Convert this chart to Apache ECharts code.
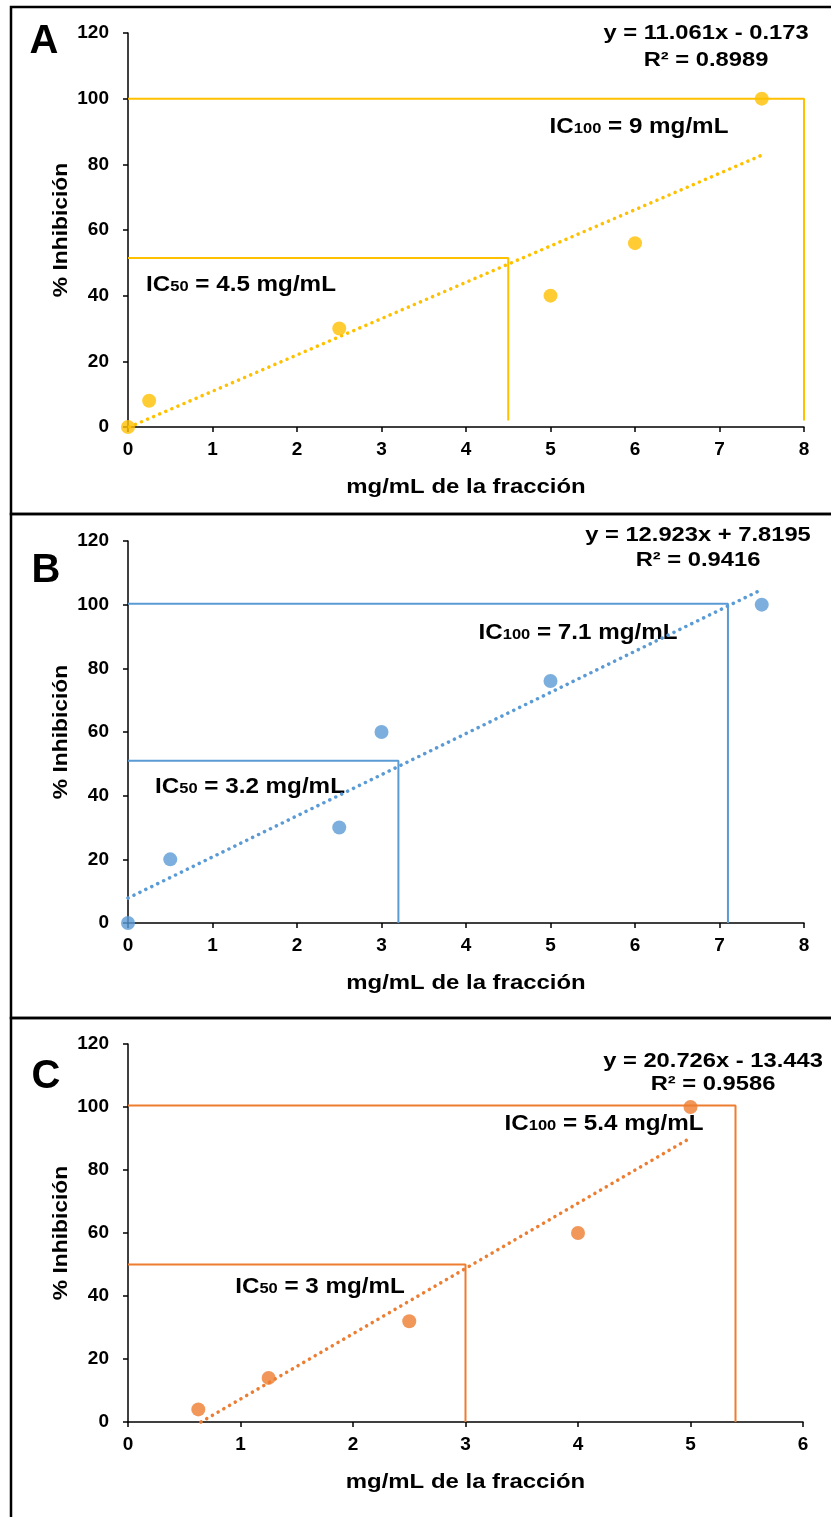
<!DOCTYPE html>
<html>
<head>
<meta charset="utf-8">
<title>% Inhibición vs mg/mL de la fracción</title>
<script src="https://cdn.jsdelivr.net/npm/echarts@6/dist/echarts.min.js"></script>
<style>
  html, body { margin: 0; padding: 0; background: #fff; }
  #chart { width: 831px; height: 1517px; }
</style>
</head>
<body>
<div id="chart"></div>
<script>
// ---- data ----
const panelLetters = ['A', 'B', 'C'];
const seriesColors = ['#FFC000', '#5B9BD5', '#ED7D31'];

const concA = [0, 0.25, 2.5, 5, 6, 7.5];
const inhA  = [0, 8, 30, 40, 56, 100];
const concB = [0, 0.5, 2.5, 3, 5, 7.5];
const inhB  = [0, 20, 30, 60, 76, 100];
const concC = [0.625, 1.25, 2.5, 4, 5];
const inhC  = [4, 14, 32, 60, 100];

// linear fits shown on each panel
const slopes     = [11.061, 12.923, 20.726];
const intercepts = [-0.173, 7.8195, -13.443];
const rSquared   = ['0.8989', '0.9416', '0.9586'];

// inhibitory concentrations and the % levels their guide lines sit on
const ic50       = [4.5, 3.2, 3];
const ic100      = [9, 7.1, 5.4];
const ic50Level  = [51.5, 51, 50];
const ic100Level = [100, 100.3, 100.5];
const guideFloor = [2, 0, 0];

const xMax   = [8, 8, 6];
const yTicks = [0, 20, 40, 60, 80, 100, 120];
const xTitle = 'mg/mL de la fracción';
const yTitle = '% Inhibición';

// ---- layout ----
const FONT = '"Liberation Sans", Arial, sans-serif';
const grids = [
  { left: 128, top: 33,   width: 676, height: 394 },
  { left: 128, top: 541,  width: 676, height: 382 },
  { left: 128, top: 1044, width: 675, height: 378 }
];
const frames = [
  { y: 7,    h: 507 },
  { y: 514,  h: 504 },
  { y: 1018, h: 520 }
];
const letterPos = [[44, 42], [46, 571], [46, 1077]];
const eqPos     = [[706, 33, 60], [698, 535, 560], [713, 1061, 1084]];
const ic100Pos  = [[639, 125], [578, 631], [604, 1122]];
const ic50Pos   = [[241, 283], [250, 785], [320, 1285]];

const conc = [concA, concB, concC];
const inh  = [inhA, inhB, inhC];

function fmtEq(i) {
  const b = intercepts[i];
  return 'y = ' + slopes[i] + 'x ' + (b < 0 ? '- ' : '+ ') + Math.abs(b);
}

function trendPoints(i) {
  const xs = conc[i];
  const root = -intercepts[i] / slopes[i];
  const x0 = Math.max(Math.min.apply(null, xs), root);
  const x1 = Math.max.apply(null, xs);
  return [[x0, slopes[i] * x0 + intercepts[i]], [x1, slopes[i] * x1 + intercepts[i]]];
}

function guide(i, xv, level) {
  const x = Math.min(xv, xMax[i]);
  return [[0, level], [x, level], [x, guideFloor[i]]];
}

// bold text, slightly widened horizontally
function label(x, y, text, size, stretch, extra) {
  return Object.assign({
    type: 'text', x: x, y: y, scaleX: stretch,
    style: { text: text, font: 'bold ' + size + 'px ' + FONT, fill: '#000',
             align: 'center', verticalAlign: 'middle' }
  }, extra || {});
}

const axisCommon = {
  axisLine: { show: true, onZero: false, lineStyle: { color: '#000', width: 1.5 } },
  axisTick: { show: true, length: 5, lineStyle: { color: '#000', width: 1.5 } },
  splitLine: { show: false }
};
const tickFont = { color: '#000', fontFamily: FONT, fontWeight: 'bold', fontSize: 19 };

const option = {
  animation: false,
  backgroundColor: '#fff',
  grid: grids,
  xAxis: [],
  yAxis: [],
  series: [],
  graphic: []
};

for (let i = 0; i < 3; i++) {
  const g = grids[i];
  option.xAxis.push(Object.assign({}, axisCommon, {
    type: 'value', gridIndex: i, min: 0, max: xMax[i], interval: 1,
    axisLabel: Object.assign({ margin: 13 }, tickFont)
  }));
  option.yAxis.push(Object.assign({}, axisCommon, {
    type: 'value', gridIndex: i, min: yTicks[0], max: yTicks[yTicks.length - 1], interval: 20,
    axisLabel: Object.assign({ margin: 19 }, tickFont)
  }));

  const color = seriesColors[i];
  const guideStyle = { color: color, width: 2 };
  option.series.push(
    { type: 'line', xAxisIndex: i, yAxisIndex: i, data: guide(i, ic100[i], ic100Level[i]),
      symbol: 'none', clip: false, lineStyle: guideStyle, z: 2, silent: true },
    { type: 'line', xAxisIndex: i, yAxisIndex: i, data: guide(i, ic50[i], ic50Level[i]),
      symbol: 'none', clip: false, lineStyle: guideStyle, z: 2, silent: true },
    { type: 'line', xAxisIndex: i, yAxisIndex: i, data: trendPoints(i),
      symbol: 'none', clip: false, z: 3, silent: true,
      lineStyle: { color: color, width: 3.5, type: [0.1, 6.5], cap: 'round' } },
    { type: 'scatter', xAxisIndex: i, yAxisIndex: i,
      data: conc[i].map((x, k) => [x, inh[i][k]]),
      symbol: 'circle', symbolSize: 14, clip: false, z: 5,
      itemStyle: { color: color } }
  );

  // panel frame
  option.graphic.push({
    type: 'rect', shape: { x: 11, y: frames[i].y, width: 850, height: frames[i].h },
    style: { fill: 'none', stroke: '#000', lineWidth: 2.5 }, z: 1
  });
  // panel letter
  option.graphic.push({
    type: 'text', x: letterPos[i][0], y: letterPos[i][1],
    style: { text: panelLetters[i], font: 'bold 40px ' + FONT, fill: '#000',
             align: 'center', verticalAlign: 'middle' }
  });
  // axis titles
  option.graphic.push(label(g.left + g.width / 2, g.top + g.height + 60, xTitle, 21, 1.14));
  option.graphic.push(label(61, g.top + g.height / 2, yTitle, 20, 1.14, { rotation: Math.PI / 2 }));
  // regression equation and R²
  option.graphic.push(label(eqPos[i][0], eqPos[i][1], fmtEq(i), 21, 1.13));
  option.graphic.push(label(eqPos[i][0], eqPos[i][2], 'R² = ' + rSquared[i], 21, 1.13));
  // IC labels
  const icRich = {
    m: { font: 'bold 22px ' + FONT, fill: '#000', lineHeight: 25, verticalAlign: 'bottom' },
    s: { font: 'bold 15px ' + FONT, fill: '#000', lineHeight: 25, verticalAlign: 'bottom', padding: [0, 0, 1, 0] }
  };
  option.graphic.push({
    type: 'text', x: ic100Pos[i][0], y: ic100Pos[i][1], scaleX: 1.1,
    style: { text: '{m|IC}{s|100}{m| = ' + ic100[i] + ' mg/mL}', rich: icRich,
             align: 'center', verticalAlign: 'middle' }
  });
  option.graphic.push({
    type: 'text', x: ic50Pos[i][0], y: ic50Pos[i][1], scaleX: 1.1,
    style: { text: '{m|IC}{s|50}{m| = ' + ic50[i] + ' mg/mL}', rich: icRich,
             align: 'center', verticalAlign: 'middle' }
  });
}

const chart = echarts.init(document.getElementById('chart'), null, { renderer: 'canvas' });
chart.setOption(option);
</script>
</body>
</html>
